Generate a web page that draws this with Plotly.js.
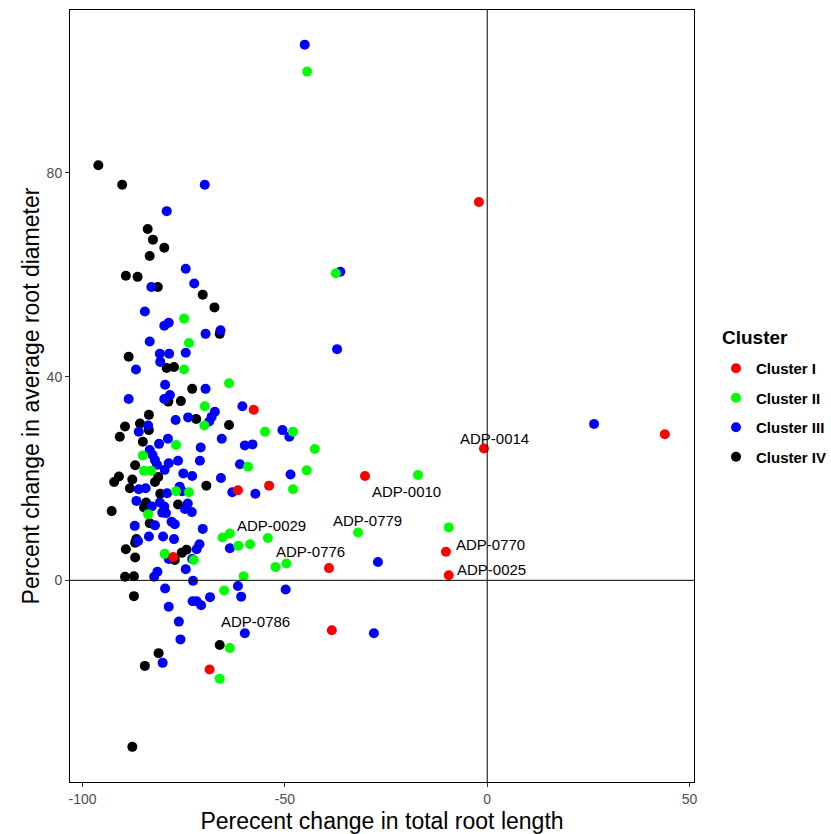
<!DOCTYPE html>
<html>
<head>
<meta charset="utf-8">
<script src="https://cdn.plot.ly/plotly-3.0.1.min.js"></script>
<style>html,body{margin:0;padding:0;background:#fff;}#chart{width:831px;height:834px;}</style>
</head>
<body>
<div id="chart"></div>
<script>
// Cluster I (red)
const xI = [-2.05, -0.8, 43.9, -30.2, -10.2, -9.5, -39.1, -38.4, -57.7, -61.6, -53.9, -77.6, -68.6];
const yI = [74.3, 25.9, 28.7, 20.5, 5.6, 1.0, 2.4, -9.8, 33.5, 17.7, 18.6, 4.6, -17.5];

// Cluster II (green)
const xII = [-44.5, -37.4, -9.5, -17.1, -31.9, -63.8, -54.9, -48.0, -42.6, -59.1, -44.6, -48.0, -65.4, -63.6, -61.5, -58.6, -54.2, -52.3, -49.6, -60.2, -65.0, -63.6, -66.1, -74.9, -73.7, -74.9, -69.8, -69.9, -76.9, -85.1, -84.8, -83.1, -76.9, -73.7, -83.8, -79.7, -72.5];
const yII = [99.9, 60.3, 10.4, 20.7, 9.4, 38.7, 29.2, 29.2, 25.8, 22.3, 21.6, 17.9, 8.4, 9.2, 6.8, 7.1, 8.3, 2.6, 3.3, 0.8, -2.0, -13.3, -19.3, 51.4, 46.6, 41.4, 34.2, 30.4, 26.6, 24.5, 21.5, 21.5, 17.5, 17.3, 13.0, 5.2, 4.0];

// Cluster III (blue)
const xIII = [-45.1, -36.3, -37.1, 26.4, -27.0, -28.0, -69.8, -79.2, -74.5, -83.0, -72.4, -84.6, -78.7, -79.8, -69.6, -65.9, -83.4, -80.9, -78.6, -74.5, -80.8, -86.8, -79.6, -69.6, -88.6, -78.4, -79.8, -67.3, -68.1, -68.7, -77.0, -73.9, -83.8, -86.1, -78.9, -81.1, -65.6, -70.8, -83.4, -82.7, -82.1, -81.6, -76.4, -71.0, -78.7, -79.7, -75.1, -72.9, -65.8, -86.1, -84.4, -76.0, -75.4, -79.1, -86.7, -82.9, -80.9, -79.8, -74.0, -74.7, -73.0, -80.3, -79.4, -82.1, -78.0, -77.2, -87.1, -70.3, -83.6, -80.1, -77.4, -86.3, -71.1, -71.8, -78.7, -72.9, -74.5, -81.5, -82.3, -72.7, -79.6, -68.5, -72.8, -71.8, -70.7, -78.7, -76.2, -75.8, -80.2, -60.5, -50.6, -48.9, -59.9, -58.0, -61.1, -48.6, -63.0, -57.3, -63.6, -61.6, -60.8, -49.8, -59.9];
const yIII = [105.2, 60.6, 45.4, 30.7, 3.6, -10.4, 77.7, 72.5, 61.2, 57.6, 58.3, 52.8, 50.6, 50.0, 48.4, 49.1, 46.9, 44.5, 44.5, 44.7, 42.9, 41.4, 38.4, 37.6, 35.6, 36.4, 35.6, 33.1, 32.1, 31.2, 31.5, 32.0, 30.4, 29.2, 27.8, 26.8, 27.8, 26.1, 25.6, 24.6, 23.6, 22.7, 23.5, 23.5, 23.0, 21.7, 21.0, 20.5, 20.1, 17.9, 18.1, 18.4, 17.5, 17.1, 15.6, 14.5, 15.3, 14.5, 15.1, 14.0, 13.4, 13.3, 13.2, 10.8, 11.5, 11.0, 10.7, 10.1, 8.6, 8.6, 8.1, 7.7, 7.1, 6.1, 4.2, 4.2, 2.2, 1.7, 0.7, -0.1, -1.6, -3.3, -4.1, -4.1, -4.9, -5.2, -8.1, -11.6, -16.2, 34.2, 29.5, 28.2, 26.5, 26.7, 22.8, 20.8, 17.3, 17.0, 6.3, -1.1, -3.2, -1.8, -10.4];

// Cluster IV (black)
const xIV = [-96.1, -90.2, -83.9, -82.6, -79.8, -83.4, -89.3, -86.4, -81.4, -70.3, -67.4, -66.1, -88.6, -79.2, -77.4, -72.9, -78.8, -75.7, -83.6, -71.9, -85.8, -89.5, -83.6, -90.8, -85.1, -87.0, -91.0, -92.2, -87.7, -81.3, -82.1, -88.3, -69.4, -80.8, -84.3, -84.8, -76.4, -92.8, -83.4, -86.7, -87.0, -89.3, -74.3, -75.5, -77.2, -87.0, -89.5, -87.3, -87.3, -81.2, -84.6, -66.1, -87.7, -63.8];
const yIV = [81.5, 77.7, 69.0, 66.9, 65.3, 63.7, 59.8, 59.6, 57.6, 56.1, 53.6, 48.4, 43.9, 41.7, 41.9, 37.6, 35.1, 35.2, 32.5, 31.7, 30.8, 30.2, 29.5, 28.2, 27.2, 22.6, 20.4, 19.3, 19.8, 20.3, 19.3, 18.1, 18.6, 17.0, 15.3, 14.3, 14.9, 13.6, 11.2, 8.1, 7.4, 6.1, 6.0, 5.4, 4.0, 4.5, 0.7, 0.8, -3.1, -14.3, -16.8, -12.7, -32.7, 30.5];

// Text labels
const labelText = ['ADP-0014', 'ADP-0010', 'ADP-0779', 'ADP-0029', 'ADP-0776', 'ADP-0786', 'ADP-0770', 'ADP-0025'];
const labelX = [1.9, -20.0, -29.5, -53.3, -43.7, -57.3, 0.74, 1.0];
const labelY = [27.8, 17.5, 11.7, 10.7, 5.75, -8.0, 7.1, 2.2];

const clusterNames = ['Cluster I', 'Cluster II', 'Cluster III', 'Cluster IV'];
const clusterColors = ['#FF0000', '#00FF00', '#0000FF', '#000000'];
const xs = [xI, xII, xIII, xIV];
const ys = [yI, yII, yIII, yIV];

const FONT = 'Liberation Sans, Arial, Helvetica, sans-serif';

const traces = [];
for (let i = 3; i >= 0; i--) {
  traces.push({
    type: 'scatter', mode: 'markers',
    x: xs[i], y: ys[i], name: '<b>' + clusterNames[i] + '</b>',
    legendgroup: 'g' + i, legendrank: i + 1,
    marker: {color: clusterColors[i], size: 10, line: {width: 0}}
  });
}

const annotations = labelText.map((t, i) => ({
  x: labelX[i], y: labelY[i], xref: 'x', yref: 'y', text: t, showarrow: false,
  font: {family: FONT, size: 15, color: '#000'}, xanchor: 'center', yanchor: 'middle'
}));
annotations.push({
  xref: 'paper', yref: 'paper', x: (720 - 70) / 624, y: 1 - (338 - 10) / 772,
  xanchor: 'left', yanchor: 'middle', showarrow: false,
  text: '<b>Cluster</b>', font: {family: FONT, size: 19, color: '#000'}
});

const layout = {
  width: 831, height: 834,
  margin: {l: 70, r: 137, t: 10, b: 52, autoexpand: false},
  paper_bgcolor: '#fff', plot_bgcolor: '#fff',
  font: {family: FONT},
  showlegend: true,
  xaxis: {
    range: [-103.1, 51.1], tickvals: [-100, -50, 0, 50], ticktext: ['-100', '-50', '0', '50'],
    ticks: 'outside', ticklen: 4, tickcolor: '#333', tickwidth: 1,
    tickfont: {family: FONT, size: 14, color: '#4d4d4d'},
    showgrid: false, zeroline: false, showline: true, mirror: true, linecolor: '#000', linewidth: 1,
    title: {text: 'Perecent change in total root length', font: {family: FONT, size: 23, color: '#000'}, standoff: 10}
  },
  yaxis: {
    range: [-39.6, 112.0], tickvals: [0, 40, 80], ticktext: ['0', '40', '80'],
    ticks: 'outside', ticklen: 4, tickcolor: '#333', tickwidth: 1,
    tickfont: {family: FONT, size: 14, color: '#4d4d4d'},
    showgrid: false, zeroline: false, showline: true, mirror: true, linecolor: '#000', linewidth: 1,
    title: {text: 'Percent change in average root diameter', font: {family: FONT, size: 23, color: '#000'}, standoff: 0}
  },
  shapes: [
    {type: 'line', xref: 'x', yref: 'paper', x0: 0, x1: 0, y0: 0, y1: 1, line: {color: '#000', width: 1}},
    {type: 'line', xref: 'paper', yref: 'y', x0: 0, x1: 1, y0: 0, y1: 0, line: {color: '#000', width: 1}}
  ],
  legend: {
    x: (716 - 70) / 624, xanchor: 'left', y: 1 - (352 - 10) / 772, yanchor: 'top',
    traceorder: 'grouped', tracegroupgap: 7,
    font: {family: FONT, size: 15, color: '#000'},
    bgcolor: 'rgba(0,0,0,0)'
  },
  annotations: annotations
};

Plotly.newPlot('chart', traces, layout, {displayModeBar: false, staticPlot: true});
</script>
</body>
</html>
